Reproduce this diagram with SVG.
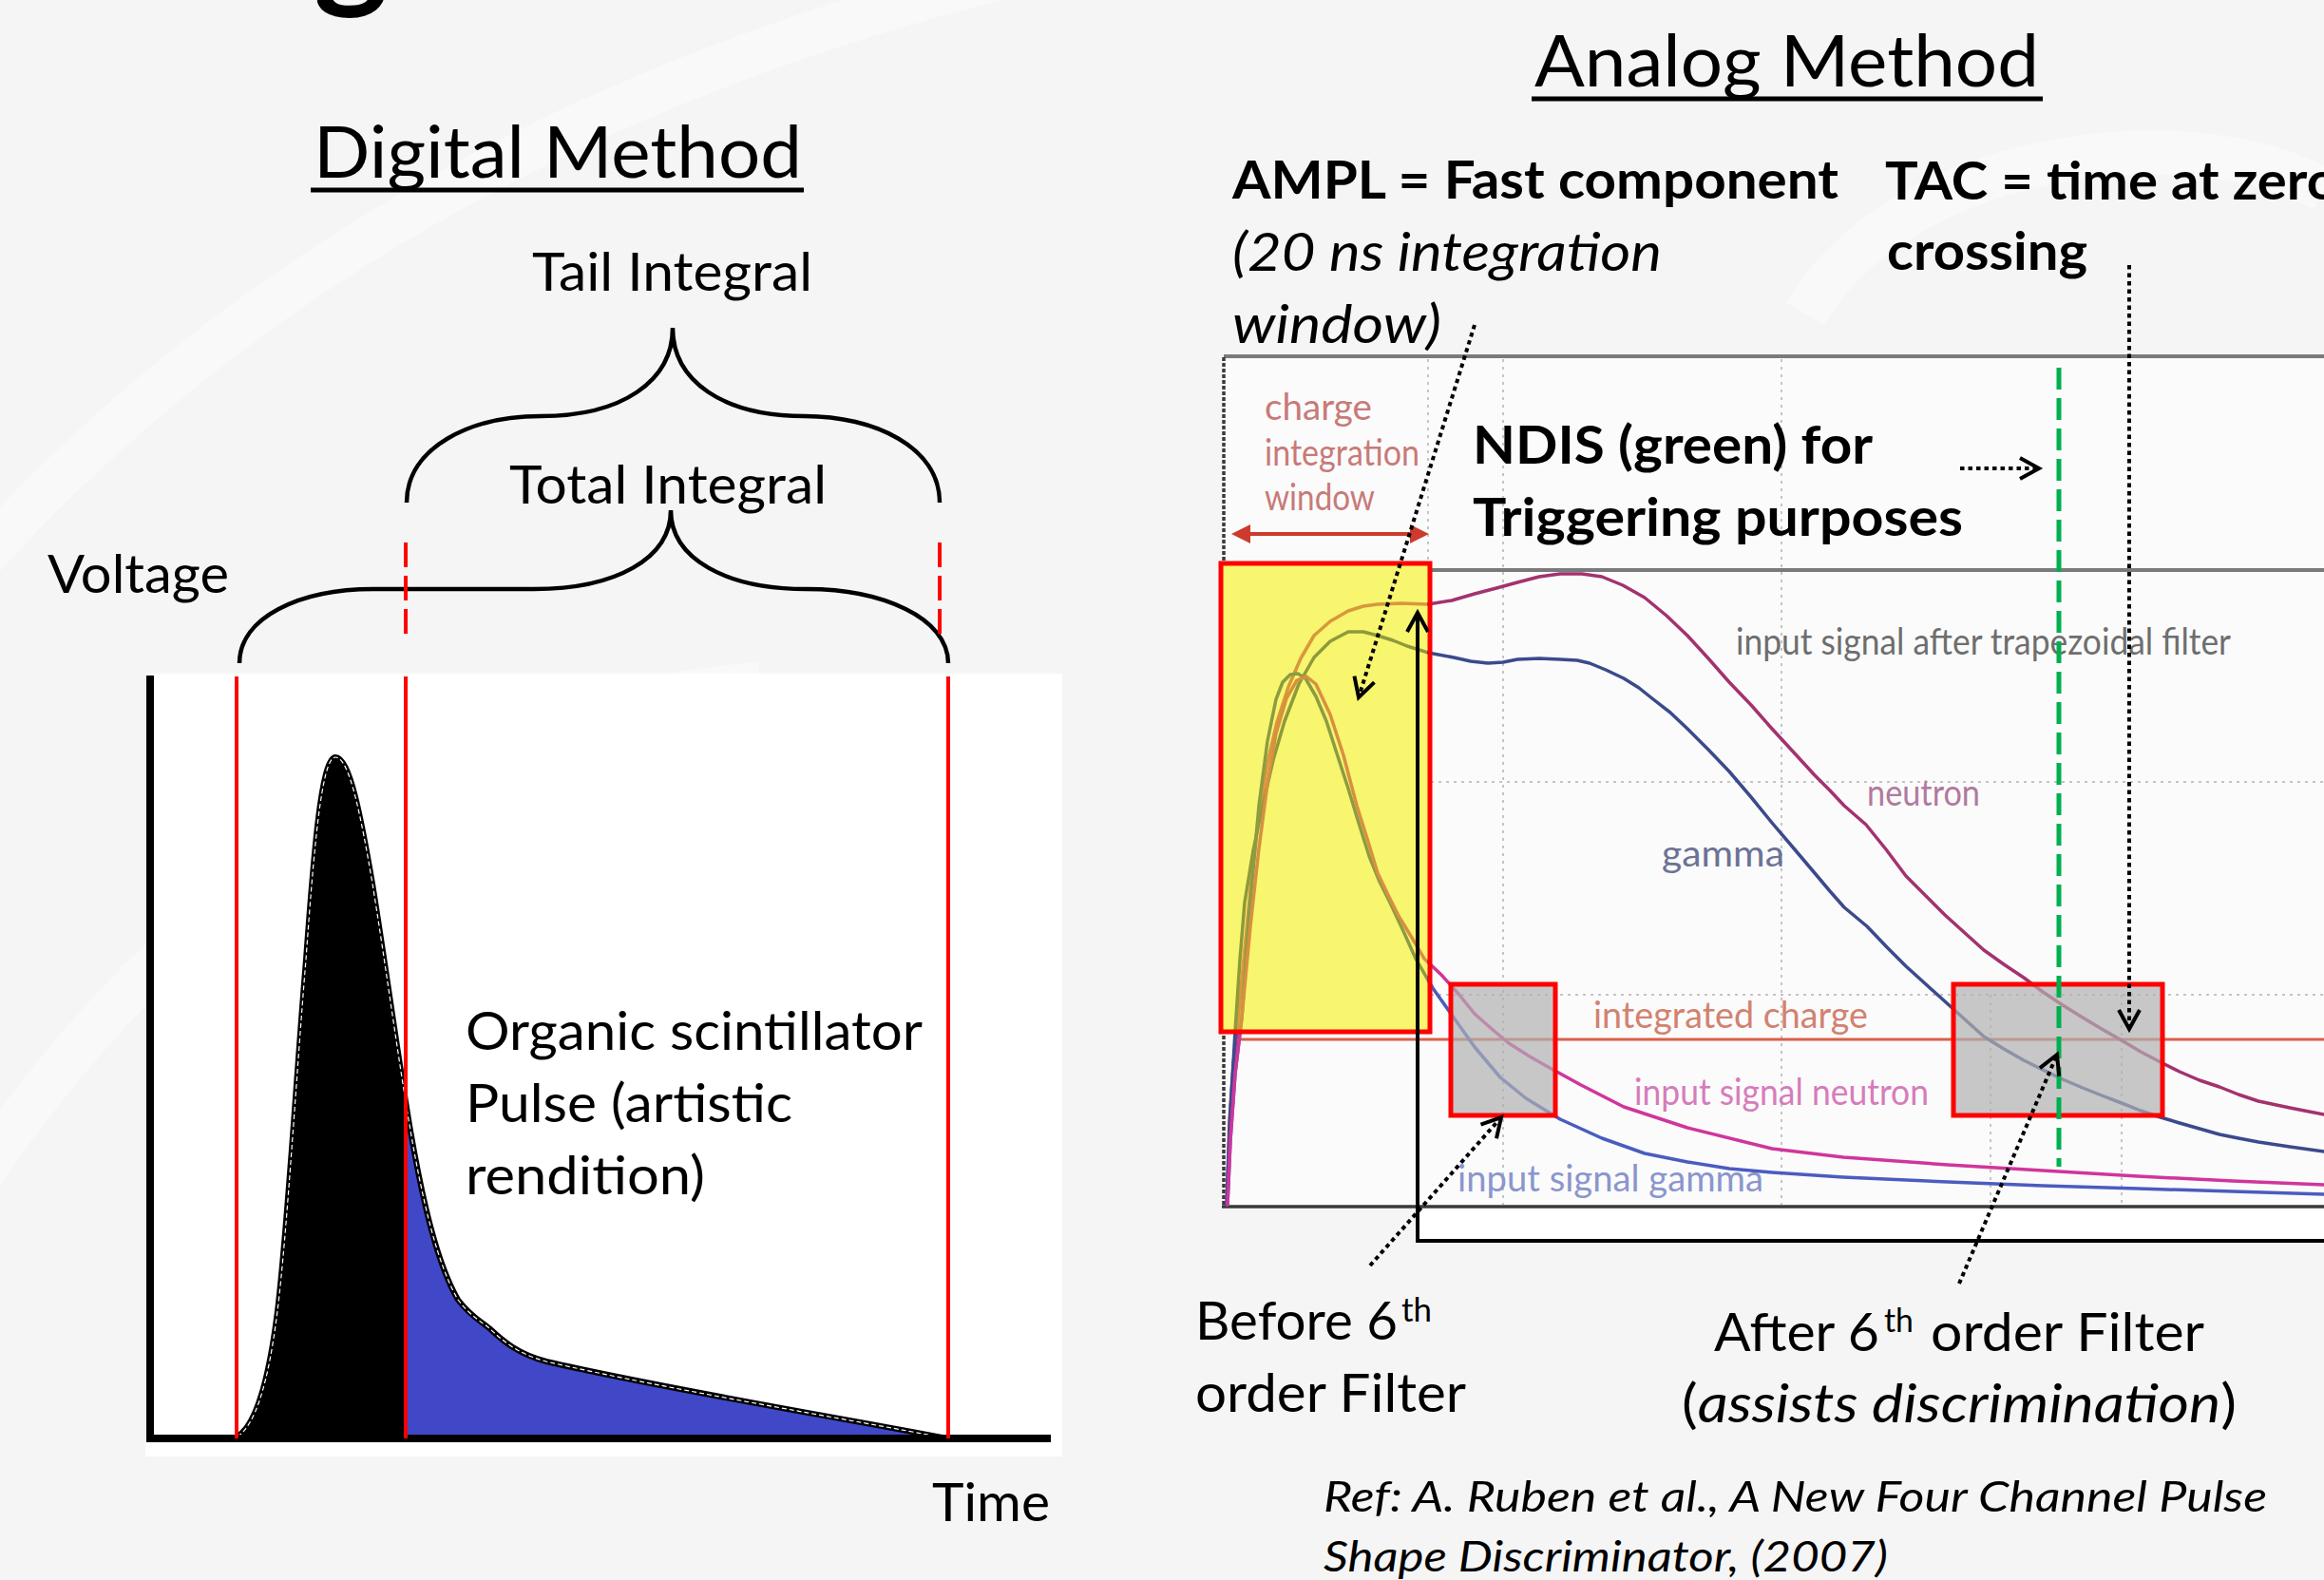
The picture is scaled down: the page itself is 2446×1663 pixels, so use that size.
<svg xmlns="http://www.w3.org/2000/svg" width="2446" height="1663" viewBox="0 0 2446 1663">
<style>
text { font-family: Lato, 'Open Sans', 'Liberation Sans', sans-serif; fill: #000; }
.t { font-size: 56px; }
.title { font-size: 76px; }
.b { font-size: 56px; font-weight: bold; }
.i { font-style: italic; }
.sup { font-size: 34px; }
.ref { font-size: 45px; font-style: italic; }
.lbl { font-size: 38px; }
.brace { fill: none; stroke: #000; stroke-width: 4.5; }
.red { stroke: #ff0000; stroke-width: 4; fill: none; }
.dot { fill: none; stroke: #000; stroke-width: 4; stroke-dasharray: 4.5 4; }
.grid { stroke: #c4c4c4; stroke-width: 2; stroke-dasharray: 3 5; fill: none; }
.curve { fill: none; stroke-width: 3.5; stroke-linejoin: round; stroke-linecap: round; }
.box { fill: none; stroke: #ff0000; stroke-width: 5; }
</style>
<defs>
<marker id="chev" markerUnits="userSpaceOnUse" markerWidth="40" markerHeight="40" refX="0" refY="0" orient="auto" overflow="visible">
<path d="M-20,-11 L0,0 L-20,11" fill="none" stroke="#000" stroke-width="4" stroke-dasharray="none"/>
</marker>
<clipPath id="inBox"><rect x="1286" y="595" width="216" height="489"/></clipPath>
<clipPath id="outBox"><path clip-rule="evenodd" d="M1280,360 H2446 V1290 H1280 Z M1286,595 V1084 H1502 V595 Z"/></clipPath>
<clipPath id="fast"><rect x="150" y="700" width="277" height="830"/></clipPath>
<g id="curveA"><polyline points="1291,1268 1294,1180 1298,1120 1302,1085 1309,1010 1316,937 1324,865 1334,803 1344,760 1356,723 1369,693 1383,669 1400,654 1419,643 1435,638 1450,636 1475,635 1503,636 1528,632 1552,625 1575,619 1597,613 1620,607 1642,604 1665,604 1686,607 1708,616 1731,629 1754,648 1776,669 1798,693 1820,718 1843,742 1865,767 1888,792 1910,816 1926,832 1941,848 1964,868 1985,894 2006,922 2027,943 2047,963 2068,982 2088,1000 2109,1015 2130,1029 2150,1044 2171,1058 2192,1071 2212,1083 2233,1095 2253,1107 2274,1118 2294,1128 2315,1137 2336,1144 2356,1152 2377,1159 2410,1166 2446,1173"/></g>
<g id="curveB"><polyline points="1291,1268 1295,1170 1300,1085 1305,1010 1310,950 1319,895 1329,848 1340,800 1352,759 1367,720 1383,692 1400,675 1419,665 1435,665 1450,669 1466,674 1481,680 1503,687 1530,692 1548,696 1566,698 1582,697 1597,694 1620,693 1642,694 1660,695 1673,698 1690,705 1709,714 1725,724 1740,736 1758,750 1776,767 1798,789 1820,812 1843,839 1865,866 1888,893 1910,919 1926,938 1941,955 1965,975 1986,997 2006,1017 2027,1036 2047,1054 2068,1073 2088,1091 2109,1104 2130,1116 2150,1126 2171,1136 2192,1145 2212,1153 2233,1161 2253,1169 2274,1176 2294,1182 2315,1188 2336,1194 2356,1198 2377,1202 2410,1207 2446,1212"/></g>
<g id="curveC"><polyline points="1292,1268 1295,1200 1300,1130 1307,1071 1315,960 1325,848 1334,780 1343,736 1350,718 1358,710 1366,709 1374,714 1385,733 1396,759 1407,793 1419,830 1430,866 1441,901 1452,928 1463,950 1477,980 1490,1009 1508,1040 1530,1071 1552,1102 1579,1134 1606,1156 1642,1178 1686,1198 1731,1214 1776,1223 1820,1230 1865,1234 1940,1239 2050,1244 2150,1248 2250,1251 2350,1254 2446,1257"/></g>
<g id="curveD"><polyline points="1292,1268 1295,1200 1300,1130 1307,1071 1316,975 1325,893 1334,825 1343,772 1354,735 1365,716 1375,712 1385,720 1400,752 1414,795 1428,848 1440,886 1450,919 1461,942 1472,964 1486,987 1499,1009 1517,1026 1535,1046 1552,1067 1570,1083 1588,1098 1610,1112 1633,1125 1664,1142 1709,1165 1776,1187 1865,1209 1940,1218 2050,1226 2150,1232 2250,1238 2350,1243 2446,1247"/></g>
<path id="pulse" d="M250,1512 C268,1500 282,1460 292,1380 C302,1300 312,1130 322,1010 C330,900 338,797 353,797 C368,797 380,860 392,930 C405,1010 420,1120 432,1190 C445,1265 460,1330 482,1368 C495,1385 505,1390 515,1398 C530,1412 545,1425 575,1433 C700,1462 900,1495 997,1514"/>
</defs>

<rect x="0" y="0" width="2446" height="1663" fill="#f5f5f5"/>
<g id="watermark" fill="none" stroke="#f9f9f9" stroke-width="46">
<path d="M-30,600 Q380,140 1080,-30"/>
<path d="M-30,1250 Q300,760 800,720"/>
<path d="M1900,330 C2000,160 2300,120 2446,200"/>
</g>

<text x="330" y="-8" font-size="150" font-weight="bold">g</text>

<g id="digital">
<text class="title" x="330" y="187" textLength="514" lengthAdjust="spacingAndGlyphs">Digital Method</text>
<line x1="327" y1="200" x2="846" y2="200" stroke="#000" stroke-width="5"/>
<text class="t" x="560" y="306" textLength="295" lengthAdjust="spacingAndGlyphs">Tail Integral</text>
<text class="t" x="536" y="530" textLength="334" lengthAdjust="spacingAndGlyphs">Total Integral</text>
<text class="t" x="50" y="624" textLength="191" lengthAdjust="spacingAndGlyphs">Voltage</text>
<path class="brace" d="M428,529 C428,471 495,438 569,438 C655,438 708,401 708,345 C708,401 761,438 847,438 C921,438 989,471 989,529"/>
<path class="brace" d="M252,698 C252,650 315,620 393,620 L562,620 C648,620 706,588 706,537 C706,588 764,620 849,620 C928,620 998,650 998,698"/>
<line class="red" x1="427" y1="571" x2="427" y2="667" stroke-dasharray="26 9"/>
<line class="red" x1="989" y1="571" x2="989" y2="667" stroke-dasharray="26 9"/>
<rect x="153" y="709" width="965" height="824" fill="#ffffff"/>
<use href="#pulse" fill="#4048c8"/>
<use href="#pulse" fill="#000" clip-path="url(#fast)"/>
<use href="#pulse" fill="none" stroke="#000" stroke-width="6"/>
<use href="#pulse" fill="none" stroke="#ffffff" stroke-width="1.2" stroke-dasharray="5 3"/>
<line x1="158" y1="711" x2="158" y2="1518" stroke="#000" stroke-width="8"/>
<line x1="154" y1="1514" x2="1106" y2="1514" stroke="#000" stroke-width="8"/>
<line class="red" x1="249" y1="712" x2="249" y2="1514"/>
<line class="red" x1="427" y1="712" x2="427" y2="1514"/>
<line class="red" x1="998" y1="712" x2="998" y2="1514"/>
<text class="t" x="490" y="1105" textLength="481" lengthAdjust="spacingAndGlyphs">Organic scintillator</text>
<text class="t" x="490" y="1181" textLength="344" lengthAdjust="spacingAndGlyphs">Pulse (artistic</text>
<text class="t" x="490" y="1257" textLength="252" lengthAdjust="spacingAndGlyphs">rendition)</text>
<text class="t" x="981" y="1601" textLength="124" lengthAdjust="spacingAndGlyphs">Time</text>
</g>

<g id="analog">
<text class="title" x="1615" y="91" textLength="531" lengthAdjust="spacingAndGlyphs">Analog Method</text>
<line x1="1612" y1="104" x2="2150" y2="104" stroke="#000" stroke-width="5"/>
<text class="b" x="1297" y="209" textLength="638" lengthAdjust="spacingAndGlyphs">AMPL = Fast component</text>
<text class="t i" x="1297" y="285" textLength="452" lengthAdjust="spacingAndGlyphs">(20 ns integration</text>
<text class="t i" x="1297" y="361" textLength="220" lengthAdjust="spacingAndGlyphs">window)</text>
<text class="b" x="1984" y="210" textLength="477" lengthAdjust="spacingAndGlyphs">TAC = time at zero</text>
<text class="b" x="1986" y="284" textLength="211" lengthAdjust="spacingAndGlyphs">crossing</text>

<g id="chart">
<rect x="1288" y="375" width="1158" height="895" fill="#fbfbfb"/>
<rect x="1492" y="1270" width="954" height="36" fill="#ffffff"/>
<line class="grid" x1="1582" y1="378" x2="1582" y2="1268"/>
<line class="grid" x1="1875" y1="378" x2="1875" y2="1268"/>
<line class="grid" x1="1503" y1="378" x2="1503" y2="598"/>
<line class="grid" x1="2095" y1="1047" x2="2095" y2="1268"/>
<line class="grid" x1="2233" y1="1047" x2="2233" y2="1268"/>
<line class="grid" x1="1290" y1="823" x2="2446" y2="823"/>
<line class="grid" x1="1290" y1="1047" x2="2446" y2="1047"/>
<line x1="1288" y1="375" x2="2446" y2="375" stroke="#7a7a7a" stroke-width="4"/>
<line x1="1288" y1="600" x2="2446" y2="600" stroke="#7a7a7a" stroke-width="4"/>
<line x1="1288" y1="376" x2="1288" y2="1271" stroke="#3a3a3a" stroke-width="3.5" stroke-dasharray="4 2"/>
<line x1="1286" y1="1270" x2="2446" y2="1270" stroke="#3a3a3a" stroke-width="3.5"/>
<line x1="1305" y1="1094" x2="2446" y2="1094" stroke="#d9604a" stroke-width="3"/>
<text class="lbl" x="1331" y="442" textLength="113" lengthAdjust="spacingAndGlyphs" style="fill:#c87a78">charge</text>
<text class="lbl" x="1331" y="490" textLength="163" lengthAdjust="spacingAndGlyphs" style="fill:#c87a78">integration</text>
<text class="lbl" x="1331" y="537" textLength="116" lengthAdjust="spacingAndGlyphs" style="fill:#c87a78">window</text>
<line x1="1312" y1="562" x2="1488" y2="562" stroke="#cc3b2e" stroke-width="4"/>
<polygon points="1296,562 1316,552 1316,572" fill="#cc3b2e"/>
<polygon points="1504,562 1484,552 1484,572" fill="#cc3b2e"/>
<text class="lbl" x="1827" y="689" textLength="521" lengthAdjust="spacingAndGlyphs" style="fill:#6e6e6e">input signal after trapezoidal filter</text>
<text class="lbl" x="1965" y="848" textLength="119" lengthAdjust="spacingAndGlyphs" style="fill:#b07a9e">neutron</text>
<text class="lbl" x="1749" y="912" textLength="129" lengthAdjust="spacingAndGlyphs" style="fill:#6c7296">gamma</text>
<text class="lbl" x="1677" y="1082" textLength="289" lengthAdjust="spacingAndGlyphs" style="fill:#d28270">integrated charge</text>
<text class="lbl" x="1720" y="1163" textLength="310" lengthAdjust="spacingAndGlyphs" style="fill:#d67cbc">input signal neutron</text>
<text class="lbl" x="1534" y="1254" textLength="322" lengthAdjust="spacingAndGlyphs" style="fill:#8a96cc">input signal gamma</text>
<rect x="1285" y="593" width="220" height="493" fill="#f8f56e"/>
<g clip-path="url(#outBox)">
<use href="#curveA" class="curve" stroke="#a3326f"/>
<use href="#curveB" class="curve" stroke="#3b4a8c"/>
<use href="#curveC" class="curve" stroke="#4a5cc0"/>
<use href="#curveD" class="curve" stroke="#d0359c"/>
</g>
<g clip-path="url(#inBox)">
<use href="#curveA" class="curve" stroke="#d8983c"/>
<use href="#curveB" class="curve" stroke="#8e9a3a"/>
<use href="#curveC" class="curve" stroke="#8c9c42"/>
<use href="#curveD" class="curve" stroke="#d89040"/>
</g>
<rect x="1527" y="1036" width="110" height="138" fill="#b0b0b0" fill-opacity="0.7"/>
<rect x="2056" y="1036" width="220" height="138" fill="#b0b0b0" fill-opacity="0.7"/>
<rect class="box" x="1285" y="593" width="220" height="493"/>
<rect class="box" x="1527" y="1036" width="110" height="138"/>
<rect class="box" x="2056" y="1036" width="220" height="138"/>
<line x1="2167" y1="387" x2="2167" y2="1228" stroke="#00b050" stroke-width="5" stroke-dasharray="23 9"/>
</g>

<text class="b" x="1550" y="488" textLength="421" lengthAdjust="spacingAndGlyphs">NDIS (green) for</text>
<text class="b" x="1550" y="564" textLength="516" lengthAdjust="spacingAndGlyphs">Triggering purposes</text>

<text class="t" x="1258" y="1410" textLength="213" lengthAdjust="spacingAndGlyphs">Before 6</text>
<text class="sup" x="1475" y="1391" textLength="32" lengthAdjust="spacingAndGlyphs">th</text>
<text class="t" x="1258" y="1486" textLength="285" lengthAdjust="spacingAndGlyphs">order Filter</text>
<text class="t" x="1804" y="1422" textLength="174" lengthAdjust="spacingAndGlyphs">After 6</text>
<text class="sup" x="1983" y="1402" textLength="31" lengthAdjust="spacingAndGlyphs">th</text>
<text class="t" x="2032" y="1422" textLength="288" lengthAdjust="spacingAndGlyphs">order Filter</text>
<text class="t" x="1770" y="1497" textLength="584" lengthAdjust="spacingAndGlyphs">(<tspan class="i">assists discrimination</tspan>)</text>
<text class="ref" x="1393" y="1591" textLength="993" lengthAdjust="spacingAndGlyphs">Ref: A. Ruben et al., A New Four Channel Pulse</text>
<text class="ref" x="1393" y="1654" textLength="594" lengthAdjust="spacingAndGlyphs">Shape Discriminator, (2007)</text>
</g>

<g id="connectors">
<line class="dot" x1="1552" y1="342" x2="1430" y2="734" marker-end="url(#chev)"/>
<line class="dot" x1="2063" y1="493" x2="2146" y2="493" marker-end="url(#chev)"/>
<line class="dot" x1="2241" y1="279" x2="2241" y2="1083" marker-end="url(#chev)"/>
<line class="dot" x1="1442" y1="1332" x2="1580" y2="1176" marker-end="url(#chev)"/>
<line class="dot" x1="2062" y1="1351" x2="2165" y2="1110" marker-end="url(#chev)"/>
<polyline points="2446,1306 1492,1306 1492,645" fill="none" stroke="#000" stroke-width="4" marker-end="url(#chev)"/>
</g>
</svg>
